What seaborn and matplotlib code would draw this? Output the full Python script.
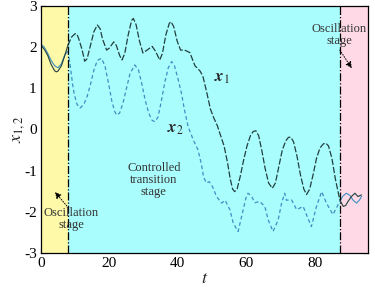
import numpy as np
import pandas as pd
import matplotlib
matplotlib.use("Agg")
import matplotlib.pyplot as plt
import seaborn as sns

# values
t1 = [0, 1, 2, 3, 4, 4.5, 5, 6, 7, 7.9, 9, 10, 10.5, 11, 12, 12.8, 13.5, 14.5, 15.5, 16.5,
      17.3, 18, 19.2, 20, 21.3, 22, 23, 23.7, 24.5, 25.5, 26.5, 27, 27.8, 28.8, 29.8, 31,
      32.5, 33.5, 34.7, 35.5, 36.5, 37.5, 38, 38.8, 39.8, 40.8, 42, 43.5, 45, 46.5, 47.3,
      48.5, 49.5, 50.5, 51.5, 52.5, 53.5, 54.5, 55.3, 56, 56.6, 57.3, 58.2, 59.2, 60.2,
      61.2, 62, 62.8, 63.6, 64.5, 65.5, 66.5, 67.6, 68.5, 69.5, 70.5, 71.5, 72.3, 73,
      73.8, 74.8, 75.8, 76.8, 77.6, 78.5, 79.5, 80.5, 81.5, 82.5, 83.2, 84, 85, 86, 87.3,
      88.3, 89, 89.7, 90.7, 91.7, 92.6, 93.6]
x1 = [2.05, 1.95, 1.8, 1.58, 1.43, 1.40, 1.42, 1.55, 1.8, 2.05, 2.25, 2.33, 2.32, 2.22, 1.95,
      1.66, 1.72, 2.05, 2.38, 2.54, 2.45, 2.2, 1.93, 1.98, 2.13, 2.05, 1.8, 1.69, 1.85, 2.3,
      2.65, 2.70, 2.55, 2.15, 1.86, 1.93, 2.02, 1.9, 1.69, 1.85, 2.3, 2.58, 2.62, 2.5, 2.15,
      1.93, 1.93, 1.87, 1.55, 1.42, 1.3, 0.88, 0.5, 0.28, 0.1, -0.15, -0.4, -0.8, -1.2,
      -1.45, -1.51, -1.45, -1.15, -0.75, -0.4, -0.15, -0.05, -0.03, -0.15, -0.5, -0.95,
      -1.3, -1.43, -1.3, -0.9, -0.5, -0.28, -0.19, -0.19, -0.3, -0.65, -1.1, -1.45, -1.58,
      -1.45, -1.1, -0.7, -0.45, -0.35, -0.33, -0.4, -0.7, -1.2, -1.71, -1.87, -1.85, -1.75,
      -1.63, -1.55, -1.63, -1.59]

t2 = [0, 1, 2, 3, 4, 5, 6, 7, 7.9, 8.5, 9.3, 9.7, 10.5, 11.4, 12.5, 13.5, 14.5, 15.5, 16.5,
      17.7, 18.7, 19.7, 20.7, 21.5, 22.1, 23, 24, 25, 26, 27.4, 28.5, 29.5, 30.5, 31.5, 32.5,
      33.3, 34.2, 35.2, 36.2, 37.2, 38.2, 39, 40, 41, 42, 43, 44.5, 45.9, 46.9, 47.5, 48.3,
      49.2, 50.2, 51.3, 52.8, 53.8, 55.2, 56.2, 57.6, 58.6, 60, 60.5, 61.5, 62.5, 63.9, 65.4,
      66.4, 67.8, 69.3, 70.3, 71.2, 71.7, 73.2, 74.7, 76.6, 78, 79, 80.5, 82, 83.4, 85.3,
      86.8, 87.3, 88.2, 89.2, 90.2, 91.2, 92.2, 93, 93.7]
x2 = [2.08, 2.0, 1.85, 1.68, 1.55, 1.5, 1.6, 1.82, 1.9, 1.6, 1.08, 0.88, 0.62, 0.52, 0.6, 0.8,
      1.1, 1.45, 1.68, 1.73, 1.55, 1.15, 0.7, 0.45, 0.35, 0.4, 0.65, 1.0, 1.35, 1.57, 1.45,
      1.1, 0.7, 0.4, 0.22, 0.19, 0.3, 0.7, 1.15, 1.5, 1.65, 1.55, 1.25, 0.9, 0.45, 0.07,
      -0.25, -0.5, -0.85, -1.15, -1.3, -1.27, -1.4, -1.63, -1.79, -1.72, -1.95, -2.28, -2.48,
      -2.12, -1.63, -1.55, -1.62, -1.78, -1.75, -1.87, -2.2, -2.48, -2.2, -1.79, -1.55,
      -1.72, -1.71, -1.95, -1.87, -2.16, -2.36, -1.87, -1.51, -1.79, -2.07, -1.83, -1.75,
      -1.62, -1.55, -1.6, -1.72, -1.79, -1.72, -1.62]

t_on, t_off = 7.9, 87.3
xticks = [0, 20, 40, 60, 80]
yticks = [-3, -2, -1, 0, 1, 2, 3]

sns.set_theme(style="ticks")
plt.rcParams["font.family"] = ["Liberation Serif", "DejaVu Serif"]
plt.rcParams["mathtext.fontset"] = "stix"
plt.rcParams["axes.unicode_minus"] = False

fig = plt.figure(figsize=(3.75, 2.9), dpi=100)
ax = fig.add_axes([0.109, 0.128, 0.872, 0.851])

# stage backgrounds
ax.axvspan(0, t_on, color="#fdf9a8", lw=0)
ax.axvspan(t_on, t_off, color="#aafdfd", lw=0)
ax.axvspan(t_off, 100, color="#ffd9e5", lw=0)

df1 = pd.DataFrame({"t": t1, "x": x1})
df2 = pd.DataFrame({"t": t2, "x": x2})
c1, c2 = "#223f40", "#3d8fc2"

# oscillation stages drawn solid, controlled stage dashed
for df, c, dash in [(df2, c2, (0, (3, 2.2))), (df1, c1, (0, (5, 1.6)))]:
    a = df[df.t <= t_on]
    b = df[(df.t >= t_on) & (df.t <= t_off)]
    d = df[df.t >= t_off]
    sns.lineplot(data=a, x="t", y="x", color=c, lw=0.8, ax=ax, sort=False)
    sns.lineplot(data=b, x="t", y="x", color=c, lw=0.9, linestyle=dash, ax=ax, sort=False)
    sns.lineplot(data=d, x="t", y="x", color=c, lw=0.8, ax=ax, sort=False)

for tv in (t_on, t_off):
    ax.axvline(tv, color="black", lw=0.9, linestyle="-.")

ax.text(52.8, 1.25, r"$\boldsymbol{x}_{\mathit{1}}$", fontsize=12, ha="center", va="center")
ax.text(39.4, 0.0, r"$\boldsymbol{x}_{2}$", fontsize=12, ha="center", va="center")

ax.text(33, -1.22, "Controlled\ntransition\nstage", fontsize=9, ha="center", va="center",
        color="#333333", linespacing=1.0)
ax.text(8.8, -2.17, "Oscillation\nstage", fontsize=9, ha="center", va="center",
        color="#333333", linespacing=0.95)
ax.text(87.2, 2.3, "Oscillation\nstage", fontsize=9, ha="center", va="center",
        color="#333333", linespacing=0.95)

arrow = dict(arrowstyle="-|>", color="black", lw=0.7, linestyle=":",
             mutation_scale=9, shrinkA=0, shrinkB=0)
ax.annotate("", xy=(4.1, -1.52), xytext=(7.6, -1.86), arrowprops=arrow)
ax.annotate("", xy=(90.8, 1.49), xytext=(87.3, 1.93), arrowprops=arrow)

ax.set_xlim(0, 95.5)
ax.set_ylim(-3, 3)
ax.set_xticks(xticks)
ax.set_yticks(yticks)
ax.tick_params(direction="in", length=3.5, width=0.8, top=True, right=True,
               labelsize=11, pad=3, colors="black")
for s in ax.spines.values():
    s.set_visible(True)
    s.set_linewidth(0.9)
    s.set_color("black")
ax.set_xlabel(r"$\mathit{t}$", fontsize=13, labelpad=0)
ax.set_ylabel(r"$\mathit{x}_{\mathit{1,2}}$", fontsize=13, labelpad=-2)

fig.savefig("out.png", dpi=100)
